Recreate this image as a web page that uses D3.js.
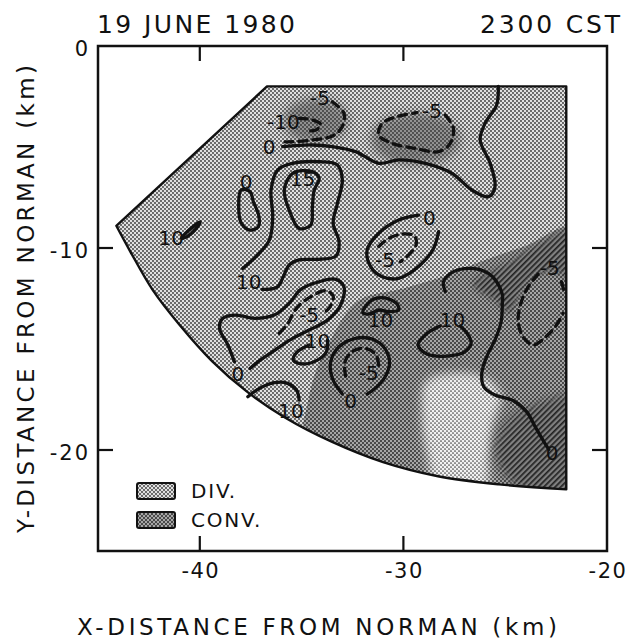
<!DOCTYPE html>
<html>
<head>
<meta charset="utf-8">
<script src="https://cdn.jsdelivr.net/npm/d3@7"></script>
<style>
  body { margin: 0; background: #fff; }
  text { font-family: "DejaVu Sans", sans-serif; fill: #111; }
</style>
</head>
<body>
<div id="container"></div>
<script>
/* CONSTANTS AND GLOBALS */
const width = 630,
  height = 641,
  margin = {top: 46, right: 21, bottom: 90, left: 98};

/* DATA (km from Norman) */
const xTicks = [-40, -30];
const yTicks = [-10, -20];
const xTickLabels = [-40, -30, -20];
const yTickLabels = [0, -10, -20];

// outline of the scanned area: curved range edge, then straight sides
const areaArc = [[-44.1,-8.9],[-43.4,-10.2],[-42.3,-12.1],[-41.0,-13.8],[-39.4,-15.6],[-37.7,-17.1],
  [-35.8,-18.4],[-33.5,-19.6],[-31.0,-20.6],[-28.3,-21.3],[-25.3,-21.7],[-22,-21.95]];
const areaCorners = [[-22,-2],[-36.7,-2]];

// shading zones
const convZone = [[-34.8,-24],[-34.6,-17.2],[-33.6,-14.6],[-32.2,-12.6],[-30,-12.0],[-28,-11.4],
  [-26,-10.6],[-24,-9.9],[-21.5,-9.0],[-21.5,-24]];
const darkUpper = [[-26.6,-11.8],[-24.8,-10.7],[-23,-9.6],[-21.5,-9.0],[-21.5,-11.6],[-22.5,-11.2],
  [-23.4,-11.3],[-24.2,-12.1],[-24.8,-13.2],[-25.5,-12.6]];
const darkLower = [[-21.5,-17.4],[-23.7,-17.8],[-24.9,-18.6],[-25.5,-19.7],[-25.3,-20.8],
  [-24.4,-21.8],[-22,-22.5],[-21.5,-22.5]];
const lightPatch = [[-28.9,-16.6],[-27.5,-16.2],[-26.0,-16.4],[-25.2,-17.3],[-25.6,-18.7],
  [-25.8,-20.4],[-26.0,-22.2],[-28.2,-22.2],[-28.9,-20.0],[-29.1,-18.0]];
const topPatches = [{cx: -34.3, cy: -3.7, rx: 1.6, ry: 1.1}, {cx: -29.4, cy: -4.6, rx: 2.2, ry: 1.3}];

// contours (solid >= 0, dashed < 0)
const c0North = [[-35.93,-4.98],[-34.47,-4.9],[-33.49,-4.98],[-32.35,-5.23],[-31.2,-5.81],[-30.23,-5.64],
  [-28.92,-5.81],[-27.62,-6.3],[-26.64,-7.13],[-25.82,-7.46],[-25.5,-6.96],[-25.74,-5.81],[-26.23,-4.65],
  [-25.99,-3.83],[-25.42,-2.92],[-25.34,-2.0]];
const cm5NW = [[-33.49,-2.76],[-32.92,-3.33],[-33.0,-3.99],[-33.49,-4.46],[-34.47,-4.65],[-35.44,-4.74],[-36.01,-4.74]];
const cm10NW = [[-35.12,-3.58],[-34.47,-3.66],[-34.06,-3.88],[-34.3,-4.16],[-34.8,-4.2]];
const cm5North = [[-27.94,-3.42],[-27.54,-4.08],[-27.7,-4.82],[-28.27,-5.23],[-29.41,-5.07],[-30.55,-4.82],
  [-31.21,-4.41],[-31.04,-3.83],[-30.23,-3.47],[-29.33,-3.3]];
const c15 = [[-35.44,-6.3],[-35.85,-7.13],[-35.61,-8.12],[-35.12,-9.03],[-34.55,-8.86],[-34.47,-7.95],
  [-34.38,-7.13],[-34.14,-6.55],[-34.47,-6.22]];
const c10West = [[-37.89,-11.01],[-37.24,-10.43],[-36.58,-9.6],[-36.42,-8.45],[-36.5,-7.13],[-36.18,-6.14],
  [-35.44,-5.81],[-34.14,-5.73],[-33.24,-5.89],[-33.0,-6.63],[-33.24,-7.79],[-33.45,-8.78],[-33.16,-9.69],
  [-33.32,-10.4],[-34.3,-10.56],[-35.12,-10.59],[-35.61,-10.84],[-35.9,-11.42],[-36.18,-11.92],[-36.94,-12.05]];
const c0Peanut = [[-37.97,-7.13],[-38.09,-7.95],[-37.97,-8.75],[-37.56,-9.11],[-37.12,-8.94],[-37.11,-8.37],
  [-37.37,-7.71],[-37.53,-7.21]];
const c10Far = [[-40.91,-9.52],[-40.5,-9.08],[-39.98,-8.7],[-40.17,-9.03],[-40.58,-9.41]];
const c0Mid = [[-29.25,-8.37],[-30.23,-8.61],[-31.21,-9.27],[-31.78,-10.1],[-31.61,-10.92],[-31.04,-11.42],
  [-30.23,-11.5],[-29.17,-10.84],[-28.52,-10.02],[-28.27,-9.19]];
const cm5Mid = [[-31.21,-9.93],[-30.75,-9.54],[-30.06,-9.31],[-29.45,-9.41],[-29.38,-9.85],[-29.71,-10.3],[-30.15,-10.68]];
const c0SW = [[-38.3,-15.63],[-38.62,-14.8],[-39.03,-13.98],[-38.87,-13.48],[-38.22,-13.32],[-37.32,-13.48],
  [-36.34,-13.32],[-35.61,-12.74],[-35.04,-12.05],[-34.14,-11.67],[-33.32,-11.55],[-32.92,-11.92],
  [-33.08,-12.82],[-33.73,-13.57],[-34.63,-14.06],[-35.52,-14.52],[-36.42,-15.13],[-37.24,-15.71],[-37.53,-15.96]];
const cm5SW = [[-36.1,-14.23],[-35.69,-13.76],[-35.25,-12.99],[-34.55,-12.41],[-33.81,-12.11],[-33.45,-12.38],
  [-33.62,-12.94],[-34.01,-13.28]];
const c10Small = [[-34.63,-14.8],[-35.2,-15.13],[-35.41,-15.55],[-34.95,-15.74],[-34.22,-15.55],[-33.78,-15.13],[-33.73,-14.56]];
const c10South = [[-37.64,-17.36],[-37.07,-16.95],[-36.34,-16.67],[-35.69,-16.7],[-35.25,-17.03],[-35.12,-17.53]];
const c0South = [[-33.0,-17.23],[-33.49,-16.45],[-33.57,-15.63],[-33.16,-14.89],[-32.35,-14.47],[-31.5,-14.52],
  [-30.88,-15.02],[-30.68,-15.71],[-30.91,-16.4],[-31.34,-16.9],[-31.78,-17.23]];
const cm5South = [[-32.84,-16.34],[-32.87,-15.63],[-32.51,-15.13],[-31.86,-14.97],[-31.34,-15.3],[-31.21,-15.84]];
const c10Dome = [[-31.99,-13.2],[-31.66,-12.66],[-31.04,-12.46],[-30.34,-12.74],[-30.23,-13.07],[-30.72,-13.15],
  [-31.21,-13.07],[-31.7,-13.27]];
const c10East = [[-28.19,-13.86],[-28.84,-14.23],[-29.28,-14.8],[-28.84,-15.25],[-27.86,-15.35],[-26.97,-15.13],
  [-26.67,-14.69],[-26.93,-14.14],[-27.21,-13.86]];
const c0East = [[-27.94,-12.16],[-28.03,-11.67],[-27.54,-11.17],[-26.64,-11.01],[-25.82,-11.26],[-25.42,-11.67],
  [-25.14,-12.3],[-25.14,-12.74],[-25.2,-13.65],[-25.5,-14.55],[-25.91,-15.38],[-26.15,-16.21],[-26.05,-16.87],
  [-25.5,-17.28],[-24.6,-17.56],[-23.95,-18.1],[-23.51,-18.88],[-23.05,-19.67],[-22.86,-19.97]];
const cm5East = [[-23.38,-11.29],[-23.87,-11.92],[-24.23,-12.74],[-24.36,-13.65],[-24.11,-14.42],[-23.62,-14.8],
  [-22.97,-14.36],[-22.48,-13.81],[-22.16,-13.24]];
const cm5EastEdge = [[-22.24,-11.67],[-22.07,-12.25]];

const contours = [
  {pts: c0North, neg: false, closed: false},
  {pts: cm5NW, neg: true, closed: false},
  {pts: cm10NW, neg: true, closed: false},
  {pts: cm5North, neg: true, closed: false},
  {pts: c15, neg: false, closed: true},
  {pts: c10West, neg: false, closed: false},
  {pts: c0Peanut, neg: false, closed: true},
  {pts: c10Far, neg: false, closed: true},
  {pts: c0Mid, neg: false, closed: false},
  {pts: cm5Mid, neg: true, closed: false},
  {pts: c0SW, neg: false, closed: false},
  {pts: cm5SW, neg: true, closed: false},
  {pts: c10Small, neg: false, closed: false},
  {pts: c10South, neg: false, closed: false},
  {pts: c0South, neg: false, closed: false},
  {pts: cm5South, neg: true, closed: false},
  {pts: c10Dome, neg: false, closed: true},
  {pts: c10East, neg: false, closed: false},
  {pts: c0East, neg: false, closed: false},
  {pts: cm5East, neg: true, closed: false},
  {pts: cm5EastEdge, neg: true, closed: false}
];

const contourLabels = [
  {x: -36.6, y: -5.0, t: "0"}, {x: -34.1, y: -2.55, t: "-5"}, {x: -35.9, y: -3.75, t: "-10"},
  {x: -28.6, y: -3.2, t: "-5"}, {x: -34.95, y: -6.6, t: "15"}, {x: -37.6, y: -11.7, t: "10"},
  {x: -37.73, y: -6.72, t: "0"}, {x: -41.4, y: -9.5, t: "10"}, {x: -28.73, y: -8.5, t: "0"},
  {x: -30.9, y: -10.6, t: "-5"}, {x: -38.13, y: -16.24, t: "0"}, {x: -34.63, y: -13.3, t: "-5"},
  {x: -34.22, y: -14.6, t: "10"}, {x: -35.52, y: -18.05, t: "10"}, {x: -32.59, y: -17.55, t: "0"},
  {x: -31.7, y: -16.2, t: "-5"}, {x: -31.12, y: -13.57, t: "10"}, {x: -27.59, y: -13.57, t: "10"},
  {x: -22.69, y: -20.17, t: "0"}, {x: -22.81, y: -11.0, t: "-5"}
];

const legendItems = [{label: "DIV.", fill: "url(#pDiv)"}, {label: "CONV.", fill: "url(#pConv)"}];

/* SCALES */
const xScale = d3.scaleLinear().domain([-45, -20]).range([margin.left, width - margin.right - 2]);
const yScale = d3.scaleLinear().domain([0, -25]).range([margin.top, height - margin.bottom]);

const smooth = d3.line().x(d => xScale(d[0])).y(d => yScale(d[1])).curve(d3.curveCatmullRom.alpha(0.5));
const smoothClosed = d3.line().x(d => xScale(d[0])).y(d => yScale(d[1])).curve(d3.curveCatmullRomClosed.alpha(0.5));

const svg = d3.select("#container").append("svg")
  .attr("width", width)
  .attr("height", height);

/* PATTERNS */
const defs = svg.append("defs");
function dotPattern(id, bg, dot, r) {
  const p = defs.append("pattern").attr("id", id)
    .attr("width", 4).attr("height", 4).attr("patternUnits", "userSpaceOnUse");
  p.append("rect").attr("width", 4).attr("height", 4).attr("fill", bg);
  p.append("circle").attr("cx", 1).attr("cy", 1).attr("r", r).attr("fill", dot);
  p.append("circle").attr("cx", 3).attr("cy", 3).attr("r", r).attr("fill", dot);
}
dotPattern("pDiv", "#e0e0e0", "#333", 0.9);
dotPattern("pConv", "#a6a6a6", "#222", 0.95);
dotPattern("pLight", "#f2f2f2", "#444", 0.85);
const hatch = defs.append("pattern").attr("id", "pHatch")
  .attr("width", 4).attr("height", 4).attr("patternUnits", "userSpaceOnUse")
  .attr("patternTransform", "rotate(45)");
hatch.append("rect").attr("width", 4).attr("height", 4).attr("fill", "#808080");
hatch.append("rect").attr("width", 1.7).attr("height", 4).attr("fill", "#222");

const areaPath = smooth(areaArc) + areaCorners.map(d => "L" + xScale(d[0]) + "," + yScale(d[1])).join("") + "Z";
defs.append("clipPath").attr("id", "areaClip").append("path").attr("d", areaPath);
defs.append("filter").attr("id", "soft").attr("x", "-50%").attr("y", "-50%").attr("width", "200%").attr("height", "200%")
  .append("feGaussianBlur").attr("stdDeviation", 5);
defs.append("filter").attr("id", "soft2").attr("x", "-50%").attr("y", "-50%").attr("width", "200%").attr("height", "200%")
  .append("feGaussianBlur").attr("stdDeviation", 3);

// soft-edged masks for the halftone blobs
function softMask(id, pts, blur) {
  defs.append("mask").attr("id", id).attr("maskUnits", "userSpaceOnUse")
    .attr("x", 0).attr("y", 0).attr("width", width).attr("height", height)
    .append("path").attr("d", smoothClosed(pts)).attr("fill", "#fff").attr("filter", blur);
}
softMask("mLight", lightPatch, "url(#soft)");
softMask("mDarkLower", darkLower, "url(#soft)");
softMask("mDarkUpper", darkUpper, "url(#soft2)");

/* SHADING */
const shade = svg.append("g").attr("clip-path", "url(#areaClip)");
shade.append("path").attr("d", areaPath).attr("fill", "url(#pDiv)");
shade.selectAll("ellipse.patch").data(topPatches).join("ellipse")
  .attr("class", "patch")
  .attr("cx", d => xScale(d.cx)).attr("cy", d => yScale(d.cy))
  .attr("rx", d => xScale(d.cx + d.rx) - xScale(d.cx)).attr("ry", d => yScale(d.cy - d.ry) - yScale(d.cy))
  .attr("fill", "#333").attr("opacity", 0.45).attr("filter", "url(#soft)");
shade.append("path").attr("d", smoothClosed(convZone)).attr("fill", "url(#pConv)");
[["mLight", "url(#pLight)"], ["mDarkUpper", "url(#pHatch)"], ["mDarkLower", "url(#pHatch)"]].forEach(([m, f]) => {
  shade.append("rect").attr("width", width).attr("height", height)
    .attr("fill", f).attr("mask", `url(#${m})`);
});

svg.append("path").attr("d", areaPath)
  .attr("fill", "none").attr("stroke", "#111").attr("stroke-width", 2.4).attr("stroke-linejoin", "round");

/* CONTOURS */
svg.append("g").selectAll("path.contour").data(contours).join("path")
  .attr("class", "contour")
  .attr("d", d => d.closed ? smoothClosed(d.pts) : smooth(d.pts))
  .attr("fill", "none")
  .attr("stroke", "#111")
  .attr("stroke-width", 3.3)
  .attr("stroke-linecap", "round")
  .attr("stroke-dasharray", d => d.neg ? "8,6" : null);

svg.append("g").selectAll("text").data(contourLabels).join("text")
  .attr("x", d => xScale(d.x)).attr("y", d => yScale(d.y))
  .attr("text-anchor", "middle").attr("dominant-baseline", "central")
  .attr("font-size", 20)
  .text(d => d.t);

/* FRAME AND AXES */
const x0 = xScale(-45), x1 = xScale(-20), y0 = yScale(0), y1 = yScale(-25);
svg.append("rect").attr("x", x0).attr("y", y0).attr("width", x1 - x0).attr("height", y1 - y0)
  .attr("fill", "none").attr("stroke", "#111").attr("stroke-width", 2.5);

const tickLen = 15;
const tickStyle = sel => sel.attr("stroke", "#111").attr("stroke-width", 2.2);
svg.append("g").selectAll("line").data(xTicks).join("line")
  .attr("x1", d => xScale(d)).attr("x2", d => xScale(d)).attr("y1", y1).attr("y2", y1 - tickLen).call(tickStyle);
svg.append("g").selectAll("line").data(xTicks).join("line")
  .attr("x1", d => xScale(d)).attr("x2", d => xScale(d)).attr("y1", y0).attr("y2", y0 + tickLen).call(tickStyle);
svg.append("g").selectAll("line").data(yTicks).join("line")
  .attr("x1", x0).attr("x2", x0 + tickLen).attr("y1", d => yScale(d)).attr("y2", d => yScale(d)).call(tickStyle);
svg.append("g").selectAll("line").data(yTicks).join("line")
  .attr("x1", x1).attr("x2", x1 - tickLen).attr("y1", d => yScale(d)).attr("y2", d => yScale(d)).call(tickStyle);

const fmt = d => d === 0 ? "0" : "-" + Math.abs(d);
svg.append("g").selectAll("text").data(xTickLabels).join("text")
  .attr("x", d => xScale(d) + 1).attr("y", y1 + 27)
  .attr("text-anchor", "middle").attr("font-size", 21).attr("letter-spacing", 1.5)
  .text(fmt);
svg.append("g").selectAll("text").data(yTickLabels).join("text")
  .attr("x", x0 - 8).attr("y", d => yScale(d) + 3)
  .attr("text-anchor", "end").attr("dominant-baseline", "central").attr("font-size", 21).attr("letter-spacing", 2)
  .text(fmt);

/* TITLES */
svg.append("text").attr("x", 97).attr("y", 33).attr("font-size", 25)
  .attr("textLength", 198).attr("lengthAdjust", "spacing")
  .text("19 JUNE 1980");
svg.append("text").attr("x", 480).attr("y", 33).attr("font-size", 25)
  .attr("textLength", 140).attr("lengthAdjust", "spacing")
  .text("2300 CST");
svg.append("text").attr("x", 77).attr("y", 635).attr("font-size", 23)
  .attr("textLength", 480).attr("lengthAdjust", "spacing")
  .text("X-DISTANCE FROM NORMAN (km)");
svg.append("text").attr("transform", "translate(34,533) rotate(-90)").attr("font-size", 23)
  .attr("textLength", 468).attr("lengthAdjust", "spacing")
  .text("Y-DISTANCE FROM NORMAN (km)");

/* LEGEND */
const legend = svg.append("g").attr("transform", "translate(137,483)");
legend.selectAll("rect").data(legendItems).join("rect")
  .attr("x", 0).attr("y", (d, i) => i * 29).attr("width", 38).attr("height", 16).attr("rx", 2)
  .attr("fill", d => d.fill).attr("stroke", "#111").attr("stroke-width", 2);
legend.selectAll("text").data(legendItems).join("text")
  .attr("x", 54).attr("y", (d, i) => i * 29 + 8)
  .attr("dominant-baseline", "central").attr("font-size", 20).attr("letter-spacing", 1.8)
  .text(d => d.label);
</script>
</body>
</html>
